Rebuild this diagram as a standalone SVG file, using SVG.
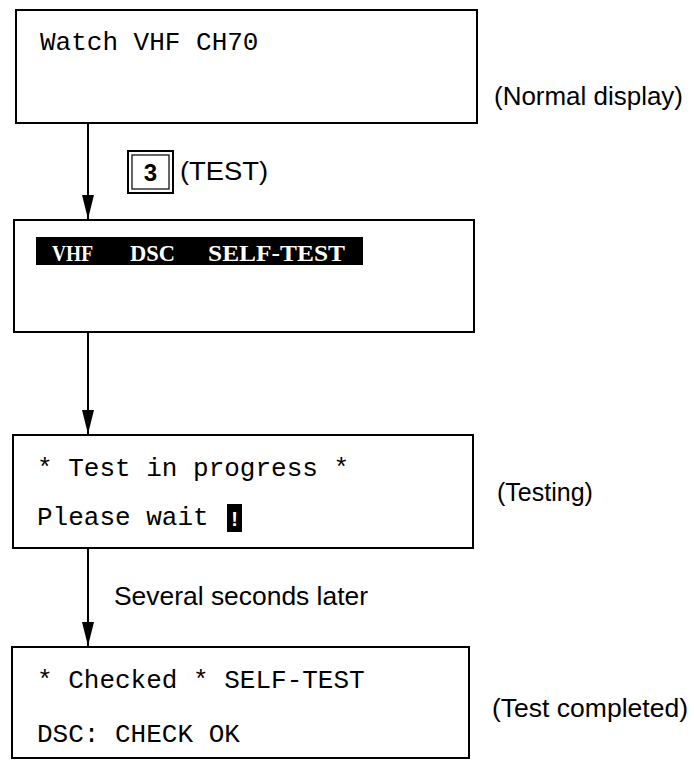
<svg xmlns="http://www.w3.org/2000/svg" width="694" height="760" viewBox="0 0 694 760">
<defs>
<style>
.box{fill:#fff;stroke:#000;stroke-width:2}
.mono{font-family:"Courier New","Nimbus Mono PS","FreeMono","Liberation Mono",monospace;font-size:26px;fill:#000}
.sans{font-family:"Liberation Sans",Arial,sans-serif;font-size:25px;fill:#000}
.hl{font-family:"Liberation Serif","Times New Roman",serif;font-weight:bold;font-size:23px;fill:#fff}
.conn{stroke:#000;stroke-width:2;fill:none}
</style>
<marker id="ah" viewBox="0 0 24 12" refX="24" refY="6" markerWidth="24" markerHeight="12" markerUnits="userSpaceOnUse" orient="auto">
<path d="M0,0 L24,6 L0,12 Z" fill="#000"/>
</marker>
</defs>
<rect width="694" height="760" fill="#fff"/>
<g id="connectors">
<line class="conn" x1="88" y1="123" x2="88" y2="219" marker-end="url(#ah)"/>
<line class="conn" x1="88" y1="332" x2="88" y2="434" marker-end="url(#ah)"/>
<line class="conn" x1="88" y1="548" x2="88" y2="646" marker-end="url(#ah)"/>
</g>
<g id="node-normal">
<rect class="box" x="16" y="10" width="461" height="113"/>
<text class="mono" x="40" y="50">Watch VHF CH70</text>
<text class="sans" x="494" y="105" textLength="189" lengthAdjust="spacingAndGlyphs">(Normal display)</text>
</g>
<g id="key-test">
<rect x="128" y="151" width="45" height="42" fill="#fff" stroke="#000" stroke-width="2"/>
<rect x="132" y="155" width="37" height="34" fill="#fff" stroke="#000" stroke-width="1.2"/>
<text x="150.5" y="181" text-anchor="middle" font-family="Liberation Sans,Arial,sans-serif" font-size="24" font-weight="bold">3</text>
<text class="sans" x="180" y="180" textLength="88" lengthAdjust="spacingAndGlyphs">(TEST)</text>
</g>
<g id="node-selftest">
<rect class="box" x="14" y="220" width="460" height="112"/>
<rect x="36" y="237" width="327" height="28" fill="#000"/>
<text class="hl" x="52" y="261" textLength="41" lengthAdjust="spacingAndGlyphs">VHF</text>
<text class="hl" x="130" y="261" textLength="45" lengthAdjust="spacingAndGlyphs">DSC</text>
<text class="hl" x="208" y="261" textLength="137" lengthAdjust="spacingAndGlyphs">SELF-TEST</text>
</g>
<g id="node-testing">
<rect class="box" x="13" y="435" width="460" height="113"/>
<text class="mono" x="37" y="476" xml:space="preserve">* Test in progress *</text>
<text class="mono" x="37" y="525">Please wait</text>
<rect x="227" y="504" width="15" height="28" fill="#000"/>
<text x="234.5" y="526" fill="#fff" text-anchor="middle" font-family="Liberation Sans,Arial,sans-serif" font-weight="bold" font-size="20">!</text>
<text class="sans" x="497" y="501">(Testing)</text>
</g>
<g id="node-completed">
<rect class="box" x="12" y="647" width="457" height="111"/>
<text class="mono" x="37" y="688">* Checked * SELF-TEST</text>
<text class="mono" x="37" y="742">DSC: CHECK OK</text>
<text class="sans" x="492" y="717" textLength="196" lengthAdjust="spacingAndGlyphs">(Test completed)</text>
</g>
<text class="sans" x="114" y="605" textLength="254" lengthAdjust="spacingAndGlyphs">Several seconds later</text>
</svg>
